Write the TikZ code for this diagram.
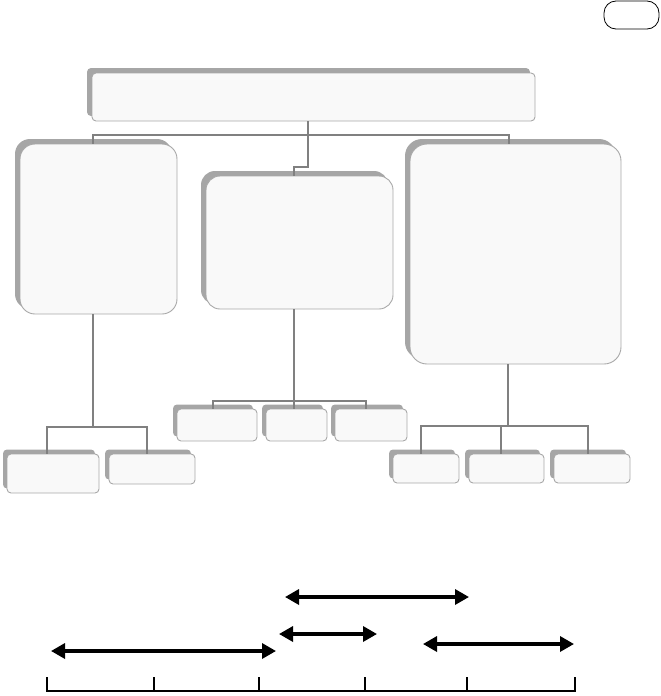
\documentclass[tikz,border=0pt]{standalone}
\usetikzlibrary{arrows.meta,shadows,fit,calc}
\definecolor{conn}{HTML}{808080}
\definecolor{boxfill}{HTML}{F9F9F9}
\definecolor{boxline}{HTML}{A8A8A8}
\definecolor{shade}{HTML}{A6A6A6}
\tikzset{
  box/.style={draw=boxline, line width=0.9pt, fill=boxfill, rounded corners=#1, inner sep=0pt,
    general shadow={shadow xshift=-5pt, shadow yshift=5pt, fill=shade}},
  sbox/.style={draw=boxline, line width=0.9pt, fill=boxfill, rounded corners=4pt, inner sep=0pt,
    general shadow={shadow xshift=-4pt, shadow yshift=4.5pt, fill=shade}},
  link/.style={draw=conn, line width=1.4pt},
  arr/.style={line width=3.3pt, {Triangle[length=14pt,width=15pt]}-{Triangle[length=14pt,width=15pt]}},
  axis/.style={line width=2.7pt},
  oval/.style={draw=black, line width=0.8pt, rounded corners=12pt, inner sep=0pt, fill=white}
}
\begin{document}
\begin{tikzpicture}[x=1pt,y=-1pt]
\useasboundingbox (0,0) rectangle (661,696);
% oval
\node[oval, fit={(604,1) (659,29)}] (ov) {};
% boxes
\node[box=4pt, fit={(92,73) (535,121)}] (top) {};
\node[box=15pt, fit={(20,144) (177,314)}] (L) {};
\node[box=14pt, fit={(206,176) (393,309)}] (M) {};
\node[box=17pt, fit={(410,144) (621,364)}] (R) {};
\node[sbox, fit={(7,454) (99,493)}] (LC1) {};
\node[sbox, fit={(109,454) (195,484)}] (LC2) {};
\node[sbox, fit={(177,409) (257,441)}] (MC1) {};
\node[sbox, fit={(266,409) (327,441)}] (MC2) {};
\node[sbox, fit={(335,409) (407,441)}] (MC3) {};
\node[sbox, fit={(393,454) (459,483)}] (RC1) {};
\node[sbox, fit={(469,454) (544,483)}] (RC2) {};
\node[sbox, fit={(554,454) (630,483)}] (RC3) {};
% junction coordinates
\coordinate (tj) at (308,135);
\coordinate (tl) at (93,135);
\coordinate (tr) at (509,135);
\coordinate (tm1) at (308,167);
\coordinate (tm2) at (294,167);
\coordinate (lj) at (93,427);
\coordinate (ll) at (47,427);
\coordinate (lr) at (147,427);
\coordinate (mj) at (294,401);
\coordinate (ml) at (213,401);
\coordinate (mr) at (366,401);
\coordinate (rj) at (508,426);
\coordinate (rl) at (421,426);
\coordinate (rm) at (501,426);
\coordinate (rr) at (588,426);
% top connectors
\draw[link] (top.south -| tj) -- (tj);
\draw[link] (tl |- L.north) -- (tl) -- (tr) -- (tr |- R.north);
\draw[link] (tj) -- (tm1) -- (tm2) -- (tm2 |- M.north);
% left
\draw[link] (L.south -| lj) -- (lj);
\draw[link] (ll |- LC1.north) -- (ll) -- (lr) -- (lr |- LC2.north);
% middle
\draw[link] (M.south -| mj) -- (mj);
\draw[link] (ml |- MC1.north) -- (ml) -- (mr) -- (mr |- MC3.north);
\draw[link] (mj) -- (mj |- MC2.north);
% right
\draw[link] (R.south -| rj) -- (rj) -- (rm);
\draw[link] (rl |- RC1.north) -- (rl) -- (rr) -- (rr |- RC3.north);
\draw[link] (rm) -- (rm |- RC2.north);
% arrows
\coordinate (a1l) at (285,597); \coordinate (a1r) at (469,597);
\coordinate (a2l) at (279,634); \coordinate (a2r) at (377,634);
\coordinate (a3l) at (51,651);  \coordinate (a3r) at (276,651);
\coordinate (a4l) at (423,644); \coordinate (a4r) at (574,644);
\draw[arr] (a1l) -- (a1r);
\draw[arr] (a2l) -- (a2r);
\draw[arr] (a3l) -- (a3r);
\draw[arr] (a4l) -- (a4r);
% timeline
\coordinate (t0) at (47,691);
\coordinate (t1) at (154,691);
\coordinate (t2) at (259,691);
\coordinate (t3) at (365,691);
\coordinate (t4) at (467,691);
\coordinate (t5) at (575,691);
\draw[axis] ($(t0)+(0,-14)$) -- (t0) -- (t5) -- ($(t5)+(0,-14)$);
\foreach \t in {t1,t2,t3,t4} \draw[axis] (\t) -- ++(0,-14);
\end{tikzpicture}
\end{document}
